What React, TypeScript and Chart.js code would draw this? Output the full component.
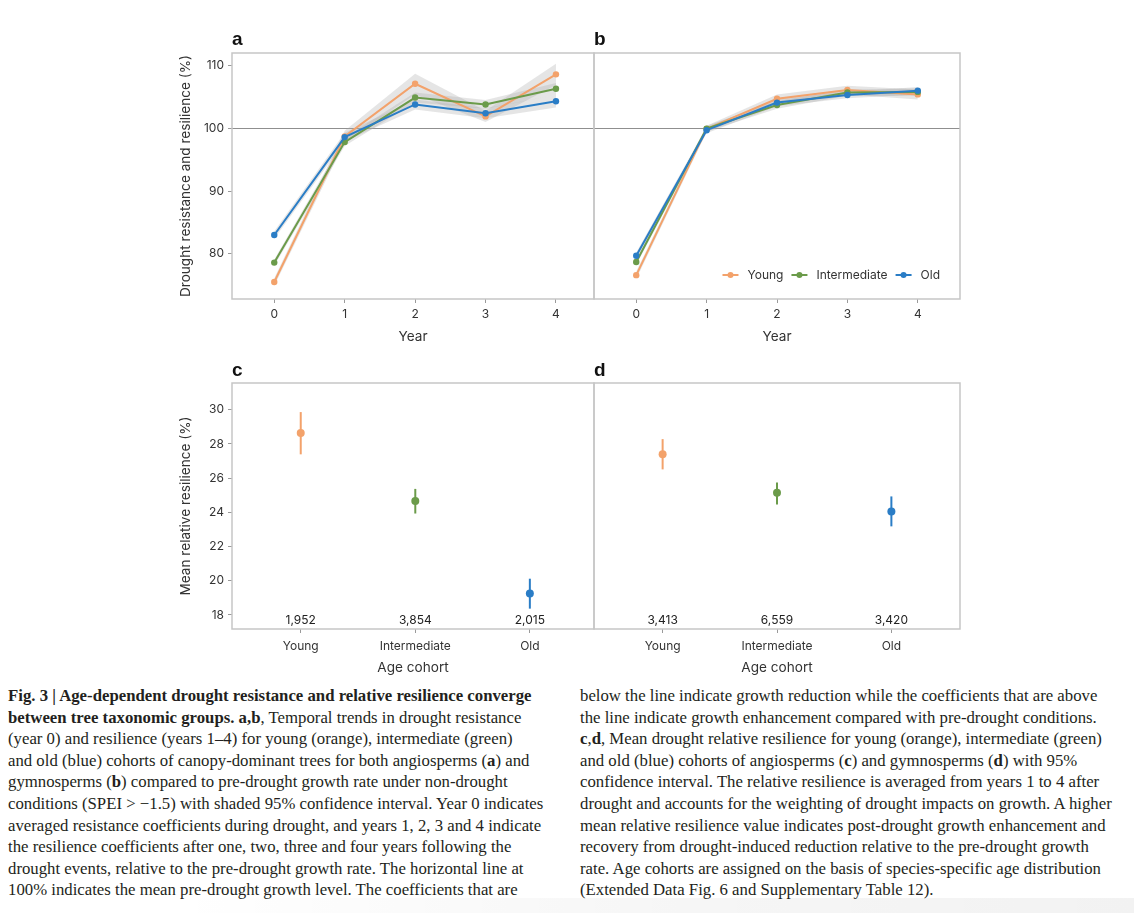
import React, { useEffect, useRef } from 'react';
import { Chart, registerables } from 'chart.js';
Chart.register(...registerables);

// ---------- data ----------
const YEARS = [0, 1, 2, 3, 4];
const COHORTS = ['Young', 'Intermediate', 'Old'];
const COLORS = ['#F3A26B', '#6B9B4A', '#2A7DC6'];
const REF_LEVEL = 100;

// panel a (angiosperms)
const aYoung = [75.5, 98.7, 107.1, 101.9, 108.6];
const aYoungLo = [74.9, 97.8, 105.4, 101.0, 106.9];
const aYoungHi = [76.1, 99.6, 108.7, 102.8, 110.3];
const aInter = [78.6, 97.8, 104.9, 103.8, 106.3];
const aInterLo = [78.1, 97.2, 104.1, 103.1, 105.3];
const aInterHi = [79.1, 98.5, 105.7, 104.5, 107.2];
const aOld = [83.0, 98.6, 103.8, 102.4, 104.3];
const aOldLo = [82.4, 97.9, 103.0, 101.6, 103.3];
const aOldHi = [83.6, 99.3, 104.6, 103.2, 105.3];

// panel b (gymnosperms)
const bYoung = [76.6, 99.9, 104.7, 106.1, 105.4];
const bYoungLo = [76.0, 99.4, 104.0, 105.4, 104.6];
const bYoungHi = [77.2, 100.4, 105.4, 106.8, 106.2];
const bInter = [78.7, 99.95, 103.7, 105.7, 105.8];
const bInterLo = [78.2, 99.5, 103.1, 105.2, 105.2];
const bInterHi = [79.2, 100.4, 104.3, 106.2, 106.4];
const bOld = [79.7, 99.7, 104.1, 105.3, 106.0];
const bOldLo = [79.2, 99.2, 103.5, 104.8, 105.4];
const bOldHi = [80.2, 100.2, 104.7, 105.8, 106.6];

// panel c (angiosperms) / d (gymnosperms)
const cMean = [28.63, 24.66, 19.25];
const cLo = [27.39, 23.93, 18.37];
const cHi = [29.86, 25.37, 20.12];
const cCounts = ['1,952', '3,854', '2,015'];
const dMean = [27.4, 25.15, 24.05];
const dLo = [26.51, 24.46, 23.18];
const dHi = [28.28, 25.75, 24.93];
const dCounts = ['3,413', '6,559', '3,420'];
const COUNT_LABEL_Y = 17.7;

const yTicksAB = [80, 90, 100, 110];
const yTicksCD = [18, 20, 22, 24, 26, 28, 30];
const xTicksAB = [0, 1, 2, 3, 4];
const xTicksCD = [0, 1, 2];

// ---------- styling ----------
const FONT = 'Inter, "Noto Sans", sans-serif';
const TEXT = '#333333';
const BORDER = '#c6c6c6';
const BAND = 'rgba(170,170,170,0.3)';

const toXY = (ys: number[]) => ys.map((y, i) => ({ x: YEARS[i], y }));

const frame = {
  id: 'frame',
  beforeDatasetsDraw(chart: any, _a: any, opts: any) {
    if (opts && opts.ref) {
      const { ctx, chartArea } = chart;
      const y = chart.scales.y.getPixelForValue(REF_LEVEL);
      ctx.save();
      ctx.strokeStyle = '#8f8f8f';
      ctx.lineWidth = 1;
      ctx.beginPath();
      ctx.moveTo(chartArea.left, Math.round(y) + 0.5);
      ctx.lineTo(chartArea.right, Math.round(y) + 0.5);
      ctx.stroke();
      ctx.restore();
    }
  },
  afterDatasetsDraw(chart: any) {
    const { ctx, chartArea } = chart;
    ctx.save();
    ctx.strokeStyle = BORDER;
    ctx.lineWidth = 1.5;
    ctx.strokeRect(chartArea.left, chartArea.top, chartArea.right - chartArea.left, chartArea.bottom - chartArea.top);
    ctx.restore();
  },
  afterDraw(chart: any, _a: any, opts: any) {
    const { ctx, chartArea } = chart;
    if (opts && opts.counts) {
      ctx.save();
      ctx.font = `12px ${FONT}`;
      ctx.fillStyle = '#222';
      ctx.textAlign = 'center';
      ctx.textBaseline = 'middle';
      const y = chart.scales.y.getPixelForValue(COUNT_LABEL_Y);
      opts.counts.forEach((t: string, i: number) => {
        ctx.fillText(t, chart.scales.x.getPixelForValue(i), y);
      });
      ctx.restore();
    }
    if (opts && opts.legend) {
      ctx.save();
      ctx.font = `12px ${FONT}`;
      const lineLen = 16, gapText = 9, gapItem = 8;
      const widths = COHORTS.map((c) => ctx.measureText(c).width);
      const total = widths.reduce((s, w) => s + lineLen + gapText + w, 0) + gapItem * (COHORTS.length - 1);
      let x = chartArea.right - 20 - total;
      const y = chartArea.bottom - 24;
      COHORTS.forEach((c, i) => {
        ctx.strokeStyle = COLORS[i];
        ctx.lineWidth = 2;
        ctx.beginPath();
        ctx.moveTo(x, y);
        ctx.lineTo(x + lineLen, y);
        ctx.stroke();
        ctx.fillStyle = COLORS[i];
        ctx.beginPath();
        ctx.arc(x + lineLen / 2, y, 3, 0, Math.PI * 2);
        ctx.fill();
        ctx.fillStyle = TEXT;
        ctx.textBaseline = 'middle';
        ctx.textAlign = 'left';
        ctx.fillText(c, x + lineLen + gapText, y + 0.5);
        x += lineLen + gapText + widths[i] + gapItem;
      });
      ctx.restore();
    }
  },
};

function yScale(min: number, max: number, ticks: number[], title: string | null) {
  const s: any = {
    type: 'linear',
    display: title !== null,
    min,
    max,
    afterBuildTicks: (sc: any) => { sc.ticks = ticks.map((v) => ({ value: v })); },
    grid: { display: true, drawOnChartArea: false, drawTicks: true, tickLength: 4, color: '#9a9a9a' },
    border: { display: false },
    ticks: { padding: 4, color: TEXT, font: { family: FONT, size: 12 } },
    title: title
      ? { display: true, text: title, color: TEXT, font: { family: FONT, size: 13.6 }, padding: { top: 8, bottom: 0 } }
      : { display: false },
  };
  if (title !== null) s.afterFit = (sc: any) => { sc.width = 62; };
  return s;
}

function xScale(min: number, max: number, ticks: number[], title: string, height: number, pad: number, labels?: string[]) {
  return {
    type: 'linear',
    min,
    max,
    afterBuildTicks: (s: any) => { s.ticks = ticks.map((v) => ({ value: v })); },
    afterFit: (s: any) => { s.height = height; },
    grid: { display: true, drawOnChartArea: false, drawTicks: true, tickLength: 4, color: '#9a9a9a' },
    border: { display: false },
    ticks: {
      padding: pad,
      color: TEXT,
      font: { family: FONT, size: 12 },
      maxRotation: 0,
      autoSkip: false,
      callback: (v: number) => (labels ? labels[v] : String(v)),
    },
    title: { display: true, text: title, color: TEXT, font: { family: FONT, size: 13.6 }, padding: { top: 0, bottom: 0 } },
  };
}

function lineDatasets(series: number[][], los: number[][], his: number[][]) {
  const ds: any[] = [];
  series.forEach((s, i) => {
    ds.push({
      data: toXY(his[i]), borderWidth: 0, pointRadius: 0, fill: '+1',
      backgroundColor: BAND, borderColor: 'rgba(0,0,0,0)', order: 20 + i,
    });
    ds.push({
      data: toXY(los[i]), borderWidth: 0, pointRadius: 0, fill: false,
      borderColor: 'rgba(0,0,0,0)', order: 20 + i,
    });
  });
  series.forEach((s, i) => {
    ds.push({
      data: toXY(s), borderColor: COLORS[i], backgroundColor: COLORS[i], borderWidth: 2,
      pointRadius: 3.2, pointBorderWidth: 0, pointBackgroundColor: COLORS[i], fill: false,
      tension: 0, order: 10 - i,
    });
  });
  return ds;
}

function dotDatasets(mean: number[], lo: number[], hi: number[]) {
  const ds: any[] = [];
  mean.forEach((m, i) => {
    ds.push({
      data: [{ x: i, y: lo[i] }, { x: i, y: hi[i] }], borderColor: COLORS[i], borderWidth: 2,
      pointRadius: 0, fill: false, order: 5,
    });
    ds.push({
      data: [{ x: i, y: m }], showLine: false, pointRadius: 4, pointBorderWidth: 0,
      pointBackgroundColor: COLORS[i], backgroundColor: COLORS[i], order: 1,
    });
  });
  return ds;
}

function baseOptions(padding: any, scales: any, frameOpts: any) {
  return {
    responsive: false,
    maintainAspectRatio: false,
    animation: false,
    devicePixelRatio: 1,
    events: [],
    layout: { padding },
    scales,
    plugins: { legend: { display: false }, tooltip: { enabled: false }, frame: frameOpts },
  };
}

const panelConfigs: Record<string, () => any> = {
  a: () => ({
    type: 'line',
    data: { datasets: lineDatasets([aYoung, aInter, aOld], [aYoungLo, aInterLo, aOldLo], [aYoungHi, aInterHi, aOldHi]) },
    options: baseOptions({ left: 0, top: 23, right: 6, bottom: 5 }, {
      x: xScale(-0.6, 4.54, xTicksAB, 'Year', 46, 4),
      y: yScale(72.8, 112.0, yTicksAB, 'Drought resistance and resilience (%)'),
    }, { ref: true }),
    plugins: [frame],
  }),
  b: () => ({
    type: 'line',
    data: { datasets: lineDatasets([bYoung, bInter, bOld], [bYoungLo, bInterLo, bOldLo], [bYoungHi, bInterHi, bOldHi]) },
    options: baseOptions({ left: 4, top: 23, right: 6, bottom: 5 }, {
      x: xScale(-0.6, 4.6, xTicksAB, 'Year', 46, 4),
      y: yScale(72.8, 112.0, yTicksAB, null),
    }, { ref: true, legend: true }),
    plugins: [frame],
  }),
  c: () => ({
    type: 'line',
    data: { datasets: dotDatasets(cMean, cLo, cHi) },
    options: baseOptions({ left: 0, top: 23, right: 6, bottom: 4 }, {
      x: xScale(-0.6, 2.56, xTicksCD, 'Age cohort', 47, 6, COHORTS),
      y: yScale(17.18, 31.56, yTicksCD, 'Mean relative resilience (%)'),
    }, { counts: cCounts }),
    plugins: [frame],
  }),
  d: () => ({
    type: 'line',
    data: { datasets: dotDatasets(dMean, dLo, dHi) },
    options: baseOptions({ left: 4, top: 23, right: 6, bottom: 4 }, {
      x: xScale(-0.6, 2.6, xTicksCD, 'Age cohort', 47, 6, COHORTS),
      y: yScale(17.18, 31.56, yTicksCD, null),
    }, { counts: dCounts }),
    plugins: [frame],
  }),
};

function Panel({ id, left, top, width, height }: { id: string; left: number; top: number; width: number; height: number }) {
  const ref = useRef<HTMLCanvasElement | null>(null);
  useEffect(() => {
    if (!ref.current) return;
    const chart = new Chart(ref.current, panelConfigs[id]());
    return () => chart.destroy();
  }, [id]);
  return (
    <canvas ref={ref} width={width} height={height}
      style={{ position: 'absolute', left, top, width, height, display: 'block' }} />
  );
}

const letterStyle = (left: number, top: number): React.CSSProperties => ({
  position: 'absolute', left, top, fontFamily: '"Liberation Sans", Arial, sans-serif', fontWeight: 700,
  fontSize: 19, lineHeight: '19px', color: '#111',
});

const capStyle: React.CSSProperties = {
  position: 'absolute', fontFamily: '"Liberation Serif", "Times New Roman", serif', fontSize: 16.75,
  lineHeight: '21.6px', color: '#231f20', whiteSpace: 'nowrap',
};

export default function App() {
  return (
    <div style={{ position: 'absolute', left: 0, top: 0, width: 1134, height: 913, background: '#fff', overflow: 'hidden' }}>
      <Panel id="a" left={170} top={30} width={430} height={320} />
      <Panel id="b" left={590} top={30} width={376} height={320} />
      <Panel id="c" left={170} top={360} width={430} height={320} />
      <Panel id="d" left={590} top={360} width={376} height={320} />
      <div style={letterStyle(232, 29)}>a</div>
      <div style={letterStyle(594, 29)}>b</div>
      <div style={letterStyle(232, 360)}>c</div>
      <div style={letterStyle(594, 360)}>d</div>
      <div style={{ position: 'absolute', left: 0, top: 898, width: 1134, height: 15,
        background: 'linear-gradient(to right, rgba(0,0,0,0) 15%, rgba(0,0,0,0.035) 60%, rgba(0,0,0,0.05))' }} />
      <div style={{ ...capStyle, left: 8, top: 685 }}>
        <div><b>Fig. 3 | Age-dependent drought resistance and relative resilience converge</b></div>
        <div><b>between tree taxonomic groups. a,b</b>, Temporal trends in drought resistance</div>
        <div>(year 0) and resilience (years 1–4) for young (orange), intermediate (green)</div>
        <div>and old (blue) cohorts of canopy-dominant trees for both angiosperms (<b>a</b>) and</div>
        <div>gymnosperms (<b>b</b>) compared to pre-drought growth rate under non-drought</div>
        <div>conditions (SPEI &gt; −1.5) with shaded 95% confidence interval. Year 0 indicates</div>
        <div>averaged resistance coefficients during drought, and years 1, 2, 3 and 4 indicate</div>
        <div>the resilience coefficients after one, two, three and four years following the</div>
        <div>drought events, relative to the pre-drought growth rate. The horizontal line at</div>
        <div>100% indicates the mean pre-drought growth level. The coefficients that are</div>
      </div>
      <div style={{ ...capStyle, left: 580, top: 685 }}>
        <div>below the line indicate growth reduction while the coefficients that are above</div>
        <div>the line indicate growth enhancement compared with pre-drought conditions.</div>
        <div><b>c</b>,<b>d</b>, Mean drought relative resilience for young (orange), intermediate (green)</div>
        <div>and old (blue) cohorts of angiosperms (<b>c</b>) and gymnosperms (<b>d</b>) with 95%</div>
        <div>confidence interval. The relative resilience is averaged from years 1 to 4 after</div>
        <div>drought and accounts for the weighting of drought impacts on growth. A higher</div>
        <div>mean relative resilience value indicates post-drought growth enhancement and</div>
        <div>recovery from drought-induced reduction relative to the pre-drought growth</div>
        <div>rate. Age cohorts are assigned on the basis of species-specific age distribution</div>
        <div>(Extended Data Fig. 6 and Supplementary Table 12).</div>
      </div>
    </div>
  );
}
